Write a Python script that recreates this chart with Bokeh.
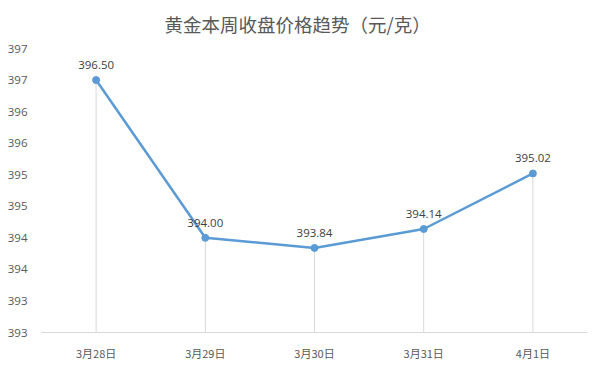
from bokeh.plotting import figure
from bokeh.models import ColumnDataSource, FixedTicker, Range1d
from bokeh.core.properties import value
from bokeh.embed import file_html
from bokeh.resources import INLINE

title_text = "黄金本周收盘价格趋势（元/克）"
dates = ["3月28日", "3月29日", "3月30日", "3月31日", "4月1日"]
prices = [396.50, 394.00, 393.84, 394.14, 395.02]
y_ticks = [392.5, 393.0, 393.5, 394.0, 394.5, 395.0, 395.5, 396.0, 396.5, 397.0]
y_tick_labels = ["393", "393", "394", "394", "395", "395", "396", "396", "397", "397"]
y_min, y_max = 392.5, 397.0

src = ColumnDataSource(dict(
    x=dates, y=prices, base=[y_min] * len(dates),
    lbl=[f"{v:.2f}" for v in prices],
))

p = figure(width=600, height=366, x_range=dates, y_range=Range1d(y_min, y_max),
           output_backend="svg", toolbar_location=None,
           min_border_left=41, min_border_right=13, min_border_top=48, min_border_bottom=34)

p.title.text = title_text
p.title.align = "left"
p.title.offset = 123
p.title.vertical_align = "top"
p.title.text_font = "Noto Sans CJK SC"
p.title.text_font_size = "18.5px"
p.title.text_font_style = "normal"
p.title.text_color = "#595959"
p.title.standoff = 19

p.outline_line_color = None
p.xgrid.grid_line_color = None
p.ygrid.grid_line_color = None

p.segment(x0="x", y0="y", x1="x", y1="base", source=src, line_color="#D9D9D9", line_width=1)
p.line(x="x", y="y", source=src, line_color="#5B9BD5", line_width=2.5)
p.scatter(x="x", y="y", source=src, size=7, fill_color="#5B9BD5", line_color="#5B9BD5")
p.text(x="x", y="y", text="lbl", source=src, y_offset=-15, text_align="center",
       text_baseline="middle", text_font=value("Open Sans"), text_font_size="11.5px",
       text_color="#404040")

p.xaxis.axis_line_color = "#D9D9D9"
p.xaxis.major_tick_line_color = None
p.xaxis.minor_tick_line_color = None
p.xaxis.major_label_standoff = 6
p.xaxis.major_label_text_font = "Noto Sans CJK SC"
p.xaxis.major_label_text_font_size = "11px"
p.xaxis.major_label_text_color = "#595959"
p.x_range.range_padding = 0

p.yaxis.ticker = FixedTicker(ticks=y_ticks)
p.yaxis.major_label_overrides = {t: l for t, l in zip(y_ticks, y_tick_labels)}
p.yaxis.axis_line_color = None
p.yaxis.major_tick_line_color = None
p.yaxis.minor_tick_line_color = None
p.yaxis.major_label_standoff = 8
p.yaxis.major_label_text_font = "Open Sans"
p.yaxis.major_label_text_font_size = "11.5px"
p.yaxis.major_label_text_color = "#595959"

open("out.html", "w").write(file_html(p, INLINE))
